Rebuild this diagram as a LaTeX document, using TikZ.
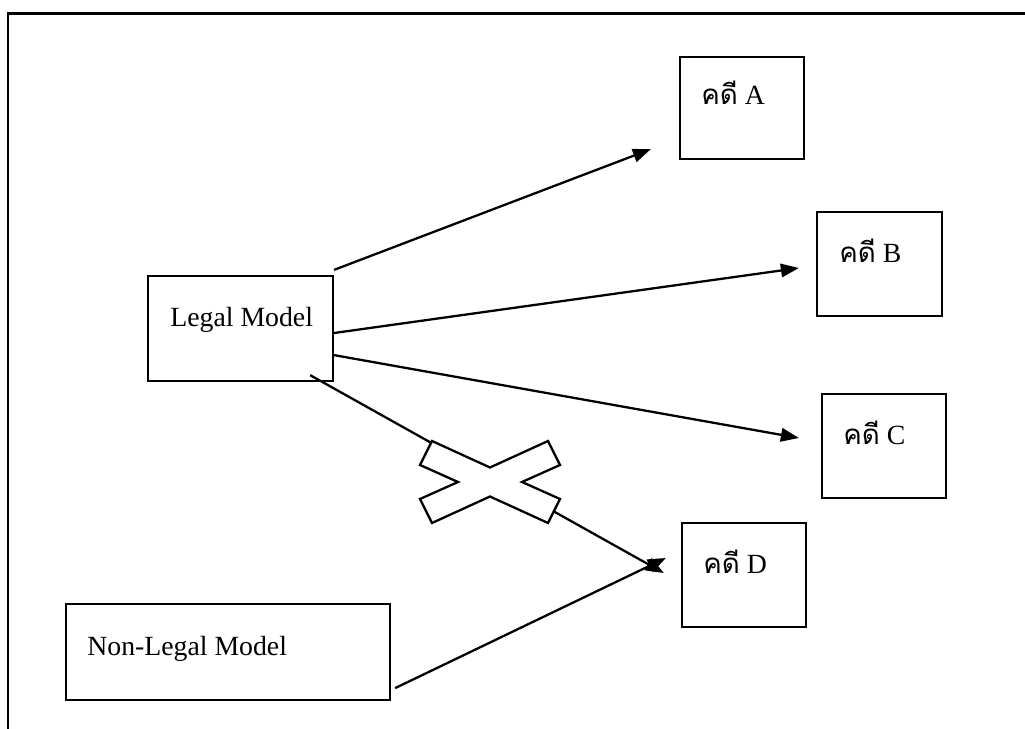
\documentclass[tikz,border=0pt]{standalone}
\usepackage{fontspec}
\setmainfont{Liberation Serif}
\newfontfamily\thaifont[Script=Thai]{Loma}
\usepackage{tikz}
\usetikzlibrary{arrows.meta}

\tikzset{
  casebox/.style={draw, line width=1.3pt, inner sep=0pt},
  caselabel/.style={anchor=base west, inner sep=0pt, font=\fontsize{15.8}{19}\selectfont},
  link/.style={line width=1.3pt, -{Triangle[length=0.36cm, width=0.27cm]}}
}

\begin{document}
\begin{tikzpicture}[x=0.02cm, y=-0.02cm]
  \useasboundingbox (0,0) rectangle (1025,729);
  % frame
  \draw[line width=1.5pt] (8,729) -- (8,13.5) -- (1025,13.5);

  % boxes
  \node[casebox, minimum width=3.7cm, minimum height=2.1cm] (legal) at (240.5,328.5) {};
  \node[casebox, minimum width=6.48cm, minimum height=1.92cm] (nonlegal) at (228,652) {};
  \node[casebox, minimum width=2.48cm, minimum height=2.04cm] (caseA) at (742,108) {};
  \node[casebox, minimum width=2.5cm, minimum height=2.08cm] (caseB) at (879.5,264) {};
  \node[casebox, minimum width=2.48cm, minimum height=2.08cm] (caseC) at (884,446) {};
  \node[casebox, minimum width=2.48cm, minimum height=2.08cm] (caseD) at (744,575) {};

  % labels
  \node[caselabel] (legaltext) at (170,327) {Legal Model};
  \node[caselabel] (nonlegaltext) at (87,655) {Non-Legal Model};
  \node[caselabel] (textA) at (701,105) {{\thaifont คดี} A};
  \node[caselabel] (textB) at (839,263) {{\thaifont คดี} B};
  \node[caselabel] (textC) at (843,445) {{\thaifont คดี} C};
  \node[caselabel] (textD) at (703,574) {{\thaifont คดี} D};

  % arrows
  \draw[link] ([shift={(0,-5)}]legal.north east) -- ([shift={(-28,-11)}]caseA.south west);
  \draw[link] ([shift={(0,4.5)}]legal.east) -- ([shift={(-17,4)}]caseB.west);
  \draw[link] ([shift={(0,-27)}]legal.south east) -- ([shift={(-22,-8)}]caseC.west);
  \draw[link] ([shift={(-24,-7)}]legal.south east) -- ([shift={(-17,-2)}]caseD.west);
  \draw[link] ([shift={(4,-13)}]nonlegal.south east) -- ([shift={(-15,-17)}]caseD.west);

  % cross over the Legal Model -> D link
  \filldraw[fill=white, line width=1.3pt, shift={(490,482)}]
    (-58,-41) -- (0,-14.5) -- (58,-41) -- (70,-17) -- (32,0) -- (70,17)
    -- (58,41) -- (0,14.5) -- (-58,41) -- (-70,17) -- (-32,0) -- (-70,-17) -- cycle;
\end{tikzpicture}
\end{document}
